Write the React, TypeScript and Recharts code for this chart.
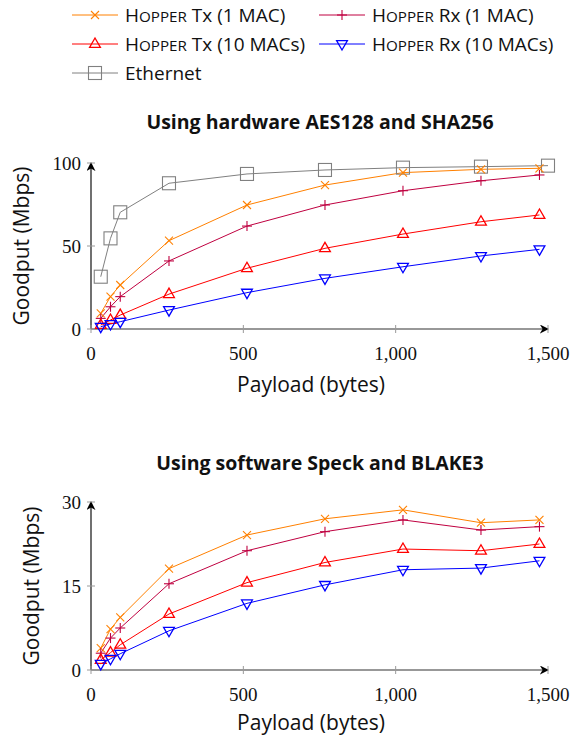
import { LineChart, Line, XAxis, YAxis } from "recharts";

// payload sizes in bytes
const payload = [32, 64, 96, 256, 512, 768, 1024, 1280, 1472];
const ethernetPayload = [32, 64, 96, 256, 512, 768, 1024, 1280, 1500];

// hardware AES128 + SHA256 (Mbps)
const hwEthernet = [31.5, 54.6, 70.3, 87.8, 93.4, 95.8, 97.2, 97.8, 98.4];
const hwTxOne = [9.4, 19.5, 26.5, 53.2, 74.7, 86.7, 94.2, 96.2, 96.8];
const hwRxOne = [6.4, 13.4, 19.5, 41, 62, 74.7, 83.3, 89.3, 92.8];
const hwTxTen = [2.4, 5.4, 8.4, 21, 36.6, 48.6, 57.2, 64.6, 68.7];
const hwRxTen = [1.4, 3, 4.4, 11.4, 21.9, 30.5, 37.5, 44, 48];

// software Speck + BLAKE3 (Mbps)
const swTxOne = [3.9, 7.3, 9.4, 18.1, 24.1, 27, 28.6, 26.3, 26.8];
const swRxOne = [3, 5.7, 7.5, 15.4, 21.3, 24.7, 26.8, 25, 25.6];
const swTxTen = [1.8, 3.1, 4.5, 10, 15.6, 19.2, 21.6, 21.3, 22.5];
const swRxTen = [1.1, 2, 2.9, 7, 11.9, 15.2, 17.9, 18.2, 19.5];

const xTicks = [0, 500, 1000, 1500];
const hwYTicks = [0, 50, 100];
const swYTicks = [0, 15, 30];

const SANS = "'Open Sans', 'Noto Sans', sans-serif";
const SERIF = "'Liberation Serif', 'DejaVu Serif', serif";

const series = [
  { key: "txOne", name: "Tx (1 MAC)", color: "#ff8000", shape: "cross" },
  { key: "rxOne", name: "Rx (1 MAC)", color: "#bf0040", shape: "plus" },
  { key: "txTen", name: "Tx (10 MACs)", color: "#ff0000", shape: "tri" },
  { key: "rxTen", name: "Rx (10 MACs)", color: "#0000ff", shape: "tridown" },
  { key: "eth", name: "Ethernet", color: "#808080", shape: "square" },
];

const toRows = (xs: number[], ys: number[]) => xs.map((x, i) => ({ x, y: ys[i] }));

function Marker({ shape, color, cx, cy }: { shape: string; color: string; cx: number; cy: number }) {
  const sw = 1.1;
  if (shape === "cross") {
    const r = 4;
    return (
      <g stroke={color} strokeWidth={sw}>
        <line x1={cx - r} y1={cy - r} x2={cx + r} y2={cy + r} />
        <line x1={cx - r} y1={cy + r} x2={cx + r} y2={cy - r} />
      </g>
    );
  }
  if (shape === "plus") {
    const r = 5;
    return (
      <g stroke={color} strokeWidth={sw}>
        <line x1={cx - r} y1={cy} x2={cx + r} y2={cy} />
        <line x1={cx} y1={cy - r} x2={cx} y2={cy + r} />
      </g>
    );
  }
  if (shape === "tri" || shape === "tridown") {
    const s = shape === "tri" ? 1 : -1;
    const pts = `${cx},${cy - 6 * s} ${cx + 5.4},${cy + 3.4 * s} ${cx - 5.4},${cy + 3.4 * s}`;
    return <polygon points={pts} fill="none" stroke={color} strokeWidth={1.3} />;
  }
  return <rect x={cx - 6.5} y={cy - 6.5} width={13} height={13} fill="none" stroke={color} strokeWidth={1.1} />;
}

const dotFor = (shape: string, color: string) => (props: any) => {
  if (props.cx == null || props.cy == null) return <g key={`${shape}-${props.index}`} />;
  return (
    <g key={`${shape}-${props.index}`}>
      <Marker shape={shape} color={color} cx={props.cx} cy={props.cy} />
    </g>
  );
};

const XTick = (props: any) => {
  const { x, y, payload: p } = props;
  return (
    <g>
      <line x1={x} x2={x} y1={y - 4} y2={y + 4} stroke="#999" strokeWidth={1} />
      <text x={x} y={y + 24} textAnchor="middle" dominantBaseline="central" fontFamily={SERIF} fontSize={19} fill="#111">
        {p.value.toLocaleString("en-US")}
      </text>
    </g>
  );
};

const YTick = (props: any) => {
  const { x, y, payload: p } = props;
  return (
    <g>
      <line x1={x - 4} x2={x + 4} y1={y} y2={y} stroke="#999" strokeWidth={1} />
      <text x={x - 10} y={y} textAnchor="end" dominantBaseline="central" fontFamily={SERIF} fontSize={19} fill="#111">
        {p.value}
      </text>
    </g>
  );
};

type PanelProps = {
  top: number;
  plotTop: number;
  plotHeight: number;
  yMax: number;
  yTicks: number[];
  data: Record<string, number[]>;
  title: string;
  titleY: number;
  xLabelY: number;
  yLabelX: number;
};

function Panel({ top, plotTop, plotHeight, yMax, yTicks, data, title, titleY, xLabelY, yLabelX }: PanelProps) {
  const marginTop = plotTop - top;
  const xAxisHeight = 68;
  const height = marginTop + plotHeight + xAxisHeight;
  return (
    <>
      <div style={{ position: "absolute", left: 0, width: 640, top: titleY - 13, textAlign: "center", fontFamily: SANS, fontWeight: 700, fontSize: 19.5, lineHeight: "26px", color: "#111" }}>
        {title}
      </div>
      <div style={{ position: "absolute", left: 0, top }}>
        <LineChart width={571} height={height} margin={{ top: marginTop, right: 23, left: 0, bottom: 0 }}>
          <XAxis
            type="number"
            dataKey="x"
            domain={[0, 1500]}
            ticks={xTicks}
            height={xAxisHeight}
            tickSize={0}
            tickMargin={0}
            tickLine={false}
            tick={<XTick />}
            axisLine={{ stroke: "#333", strokeWidth: 1.2, markerEnd: "url(#axisArrow)" }}
            allowDuplicatedCategory={false}
          />
          <YAxis
            type="number"
            domain={[0, yMax]}
            ticks={yTicks}
            width={91}
            tickSize={0}
            tickMargin={0}
            tickLine={false}
            tick={<YTick />}
            axisLine={{ stroke: "#111", strokeWidth: 1.2, markerStart: "url(#axisArrow)" }}
          />
          {data.eth && (
            <Line data={toRows(ethernetPayload, data.eth)} dataKey="y" stroke="#808080" strokeWidth={1} dot={dotFor("square", "#808080")} isAnimationActive={false} />
          )}
          {series.filter((s) => s.key !== "eth").map((s) => (
            <Line key={s.key} data={toRows(payload, data[s.key])} dataKey="y" stroke={s.color} strokeWidth={1} dot={dotFor(s.shape, s.color)} isAnimationActive={false} />
          ))}
        </LineChart>
      </div>
      <div style={{ position: "absolute", left: 0, width: 622, top: xLabelY - 15, textAlign: "center", fontFamily: SANS, fontSize: 21, lineHeight: "30px", color: "#111" }}>
        Payload (bytes)
      </div>
      <div style={{ position: "absolute", left: yLabelX - 100, top: plotTop + plotHeight / 2 - 15, width: 200, textAlign: "center", transform: "rotate(-90deg)", fontFamily: SANS, fontSize: 21, lineHeight: "30px", color: "#111" }}>
        Goodput (Mbps)
      </div>
    </>
  );
}

function Legend() {
  const pos = [
    { left: 72, top: 15 },
    { left: 319, top: 15 },
    { left: 72, top: 44 },
    { left: 319, top: 44 },
    { left: 72, top: 73 },
  ];
  return (
    <>
      {series.map((s, i) => (
        <div key={s.key} style={{ position: "absolute", left: pos[i].left, top: pos[i].top - 13, height: 26, display: "flex", alignItems: "center", fontFamily: SANS, fontSize: 19, color: "#111", whiteSpace: "nowrap" }}>
          <svg width={46} height={16} style={{ marginRight: 7 }}>
            <line x1={0} x2={46} y1={8} y2={8} stroke={s.color} strokeWidth={1} />
            <Marker shape={s.shape} color={s.color} cx={23} cy={8} />
          </svg>
          {s.key === "eth" ? (
            <span>{s.name}</span>
          ) : (
            <span>
              H<span style={{ fontSize: "0.8em" }}>OPPER</span> {s.name}
            </span>
          )}
        </div>
      ))}
    </>
  );
}

export default function App() {
  return (
    <div style={{ position: "absolute", left: 0, top: 0, width: 571, height: 740, background: "#fff", overflow: "hidden" }}>
      <svg width={0} height={0} style={{ position: "absolute" }}>
        <defs>
          <marker id="axisArrow" viewBox="0 0 10 10" refX={9} refY={5} markerWidth={9} markerHeight={9} markerUnits="userSpaceOnUse" orient="auto-start-reverse">
            <path d="M0,0 L10,5 L0,10 L3,5 z" fill="#000" />
          </marker>
        </defs>
      </svg>
      <Legend />
      <Panel
        top={140}
        plotTop={163}
        plotHeight={166}
        yMax={100}
        yTicks={hwYTicks}
        data={{ eth: hwEthernet, txOne: hwTxOne, rxOne: hwRxOne, txTen: hwTxTen, rxTen: hwRxTen }}
        title="Using hardware AES128 and SHA256"
        titleY={122}
        xLabelY={384}
        yLabelX={21}
      />
      <Panel
        top={480}
        plotTop={502}
        plotHeight={168}
        yMax={30}
        yTicks={swYTicks}
        data={{ txOne: swTxOne, rxOne: swRxOne, txTen: swTxTen, rxTen: swRxTen }}
        title="Using software Speck and BLAKE3"
        titleY={463}
        xLabelY={722}
        yLabelX={31}
      />
    </div>
  );
}
